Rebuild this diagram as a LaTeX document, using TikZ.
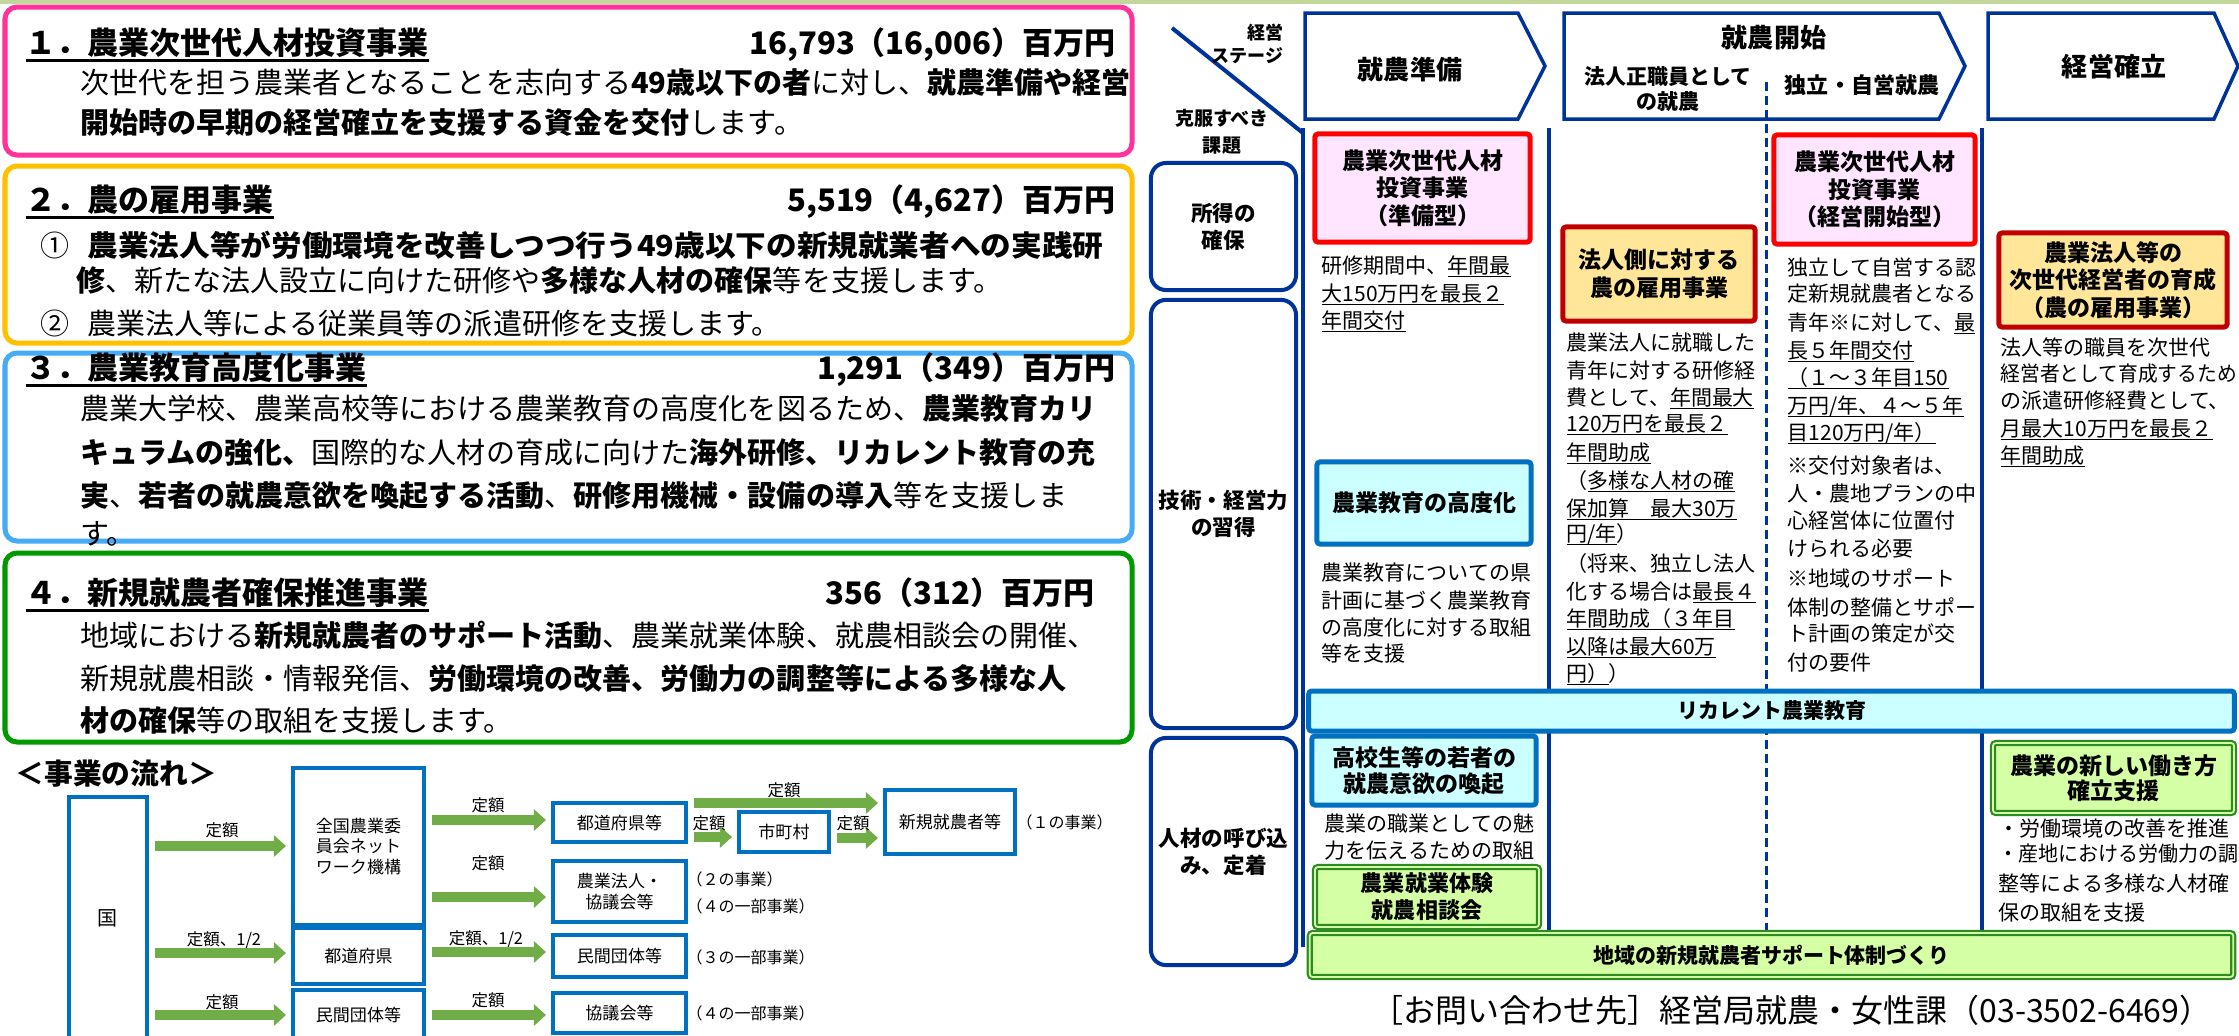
\documentclass[tikz,border=0pt]{standalone}
\usepackage{fontspec}
\usepackage{graphicx}
\setmainfont{Noto Sans CJK JP}
\usetikzlibrary{arrows.meta}
\definecolor{topbar}{HTML}{C3D69B}
\definecolor{pinkb}{HTML}{FF3399}
\definecolor{orgb}{HTML}{FFC000}
\definecolor{bluel}{HTML}{45ABF5}
\definecolor{grnb}{HTML}{009900}
\definecolor{fblue}{HTML}{0070C0}
\definecolor{agreen}{HTML}{70AD47}
\definecolor{dblue}{HTML}{003399}
\definecolor{redb}{HTML}{FF0000}
\definecolor{pinkf}{HTML}{FFE5FF}
\definecolor{orgf}{HTML}{FFE699}
\definecolor{dred}{HTML}{C00000}
\definecolor{cyanf}{HTML}{CCFFFF}
\definecolor{gfill}{HTML}{D5FFA5}
\definecolor{gdark}{HTML}{2E8B22}
\newcommand\fz[2]{\fontsize{#1}{#2}\selectfont}
\newsavebox\ulbox
\newcommand\myul[1]{\sbox\ulbox{#1}\rlap{\rule[-0.2em]{\wd\ulbox}{0.065em}}\usebox\ulbox}
\newcommand\myulT[1]{\sbox\ulbox{#1}\rlap{\rule[-0.22em]{\wd\ulbox}{0.09em}}\usebox\ulbox}
\begin{document}
\begin{tikzpicture}[x=0.01cm,y=-0.01cm,
  bigbox/.style={line width=0.05cm, rounded corners=0.12cm},
  tl/.style={inner sep=0pt, anchor=west, font=\fz{8.82pt}{10pt}\bfseries, text height=0.273cm, text depth=0.037cm},
  bd/.style={inner sep=0pt, anchor=west, font=\fz{8.25pt}{10pt}, text height=0.255cm, text depth=0.035cm},
  ct/.style={inner sep=0pt, anchor=west, font=\fz{5.97pt}{7pt}, text height=0.185cm, text depth=0.025cm},
  fbox/.style={draw=fblue, line width=0.04cm, inner sep=0pt, align=center, font=\fz{4.84pt}{5.69pt}},
  farrow/.style={draw=agreen, line width=0.1cm, -{Triangle[length=0.12cm,width=0.21cm]}, shorten <=0.06cm, shorten >=0.05cm},
  flab/.style={inner sep=0pt, font=\fz{4.69pt}{5.6pt}},
  fnote/.style={inner sep=0pt, anchor=west, font=\fz{4.55pt}{5.4pt}},
  rbox/.style={draw=dblue, line width=0.04cm, rounded corners=0.15cm, inner sep=0pt, align=center, font=\fz{6.12pt}{7.68pt}\bfseries},
  cbox/.style={line width=0.05cm, rounded corners=0.03cm, inner sep=0pt, align=center, font=\fz{6.54pt}{7.82pt}\bfseries},
  redbx/.style={cbox, draw=redb, fill=pinkf},
  orgbx/.style={cbox, draw=dred, fill=orgf},
  cybx/.style={cbox, draw=fblue, fill=cyanf},
  grbx/.style={cbox, draw=gdark, fill=gfill, line width=0.022cm, double=gfill, double distance=0.018cm},
  vline/.style={draw=dblue, line width=0.04cm},
  dashln/.style={draw=dblue, line width=0.03cm, dash pattern=on 0.09cm off 0.05cm},
  chev/.style={draw=dblue, line width=0.035cm, line join=miter},
  hd/.style={inner sep=0pt, align=center}
]
\clip (0,0) rectangle (2239,1035);
\fill[white] (0,0) rectangle (2239,1035);
\fill[topbar] (0,0) rectangle (2239,4);

% ===== left boxes =====
\draw[bigbox,draw=pinkb] (5,7) rectangle (1132,155);
\draw[bigbox,draw=orgb] (5,166) rectangle (1132,343);
\draw[bigbox,draw=bluel] (5,353) rectangle (1132,541);
\draw[bigbox,draw=grnb] (5,553) rectangle (1132,742);

\node[tl] (t1) at (25,43) {\myulT{１．農業次世代人材投資事業}};
\node[tl,anchor=east] (a1) at (1116,43) {16,793（16,006）百万円};
\node[bd] (b1a) at (80,82) {次世代を担う農業者となることを志向する\textbf{49歳以下の者}に対し、\textbf{就農準備や経営}};
\node[bd] (b1b) at (80,122) {\textbf{開始時の早期の経営確立を支援する資金を交付}します。};

\node[tl] (t2) at (25,200) {\myulT{２．農の雇用事業}};
\node[tl,anchor=east] (a2) at (1116,200) {5,519（4,627）百万円};
\node[bd] (b2n1) at (40,245) {①};
\node[bd] (b2a) at (87,245) {\resizebox{10.15cm}{\height}{\textbf{農業法人等が労働環境を改善しつつ行う49歳以下の新規就業者への実践研}}};
\node[bd] (b2b) at (76,280) {\textbf{修}、新たな法人設立に向けた研修や\textbf{多様な人材の確保}等を支援します。};
\node[bd] (b2n2) at (40,323) {②};
\node[bd] (b2c) at (87,323) {農業法人等による従業員等の派遣研修を支援します。};

\node[tl] (t3) at (25,368) {\myulT{３．農業教育高度化事業}};
\node[tl,anchor=east] (a3) at (1116,368) {1,291（349）百万円};
\node[bd] (b3a) at (80,408) {農業大学校、農業高校等における農業教育の高度化を図るため、\textbf{農業教育カリ}};
\node[bd] (b3b) at (80,452) {\textbf{キュラムの強化、}国際的な人材の育成に向けた\textbf{海外研修、リカレント教育の充}};
\node[bd] (b3c) at (80,495) {\textbf{実}、\textbf{若者の就農意欲を喚起する活動}、\textbf{研修用機械・設備の導入}等を支援しま};
\node[bd] (b3d) at (80,533) {す。};

\node[tl] (t4) at (25,593) {\myulT{４．新規就農者確保推進事業}};
\node[tl,anchor=east] (a4) at (1095,593) {356（312）百万円};
\node[bd] (b4a) at (80,635) {地域における\textbf{新規就農者のサポート活動}、農業就業体験、就農相談会の開催、};
\node[bd] (b4b) at (80,678) {新規就農相談・情報発信、\textbf{労働環境の改善、労働力の調整等による多様な人}};
\node[bd] (b4c) at (80,720) {\textbf{材の確保}等の取組を支援します。};

% ===== flow =====
\node[tl, font=\fz{8.17pt}{10pt}\bfseries] (flowt) at (15,773) {＜事業の流れ＞};

\node[fbox, minimum width=0.78cm, minimum height=2.42cm, font=\fz{5.69pt}{6.8pt}] (kuni) at (108,918) {国};
\node[fbox, minimum width=1.31cm, minimum height=1.57cm] (zk) at (358.5,846.5) {全国農業委\\員会ネット\\ワーク機構};
\node[fbox, minimum width=1.31cm, minimum height=0.56cm] (tdfk) at (358.5,956) {都道府県};
\node[fbox, minimum width=1.31cm, minimum height=0.50cm] (mkd1) at (358.5,1015) {民間団体等};
\node[fbox, minimum width=1.33cm, minimum height=0.39cm] (tdfkt) at (619.5,822.5) {都道府県等};
\node[fbox, minimum width=1.33cm, minimum height=0.61cm, font=\fz{4.84pt}{5.98pt}] (hjk) at (619.5,891.5) {農業法人・\\協議会等};
\node[fbox, minimum width=1.33cm, minimum height=0.42cm] (mkd2) at (619.5,956) {民間団体等};
\node[fbox, minimum width=1.33cm, minimum height=0.40cm] (kgk) at (619.5,1013) {協議会等};
\node[fbox, minimum width=0.90cm, minimum height=0.40cm] (scs) at (784,832) {市町村};
\node[fbox, minimum width=1.30cm, minimum height=0.64cm] (snk) at (950,822) {新規就農者等};

\draw[farrow] (kuni.east |- 0,846) -- (zk.west |- 0,846);
\draw[farrow] (kuni.east |- 0,953) -- (tdfk.west |- 0,953);
\draw[farrow] (kuni.east |- 0,1015) -- (mkd1.west |- 0,1015);
\draw[farrow] (zk.east |- 0,820) -- (tdfkt.west |- 0,820);
\draw[farrow] (zk.east |- 0,897) -- (hjk.west |- 0,897);
\draw[farrow] (tdfk.east |- 0,952) -- (mkd2.west |- 0,952);
\draw[farrow] (mkd1.east |- 0,1015) -- (kgk.west |- 0,1015);
\draw[farrow] (tdfkt.east |- 0,803) -- (snk.west |- 0,803);
\draw[farrow] (tdfkt.east |- 0,837) -- (scs.west |- 0,837);
\draw[farrow] (scs.east |- 0,838) -- (snk.west |- 0,838);

\node[flab] (l1) at (222,830) {定額};
\node[flab] (l2) at (224,940) {定額、1/2};
\node[flab] (l3) at (222,1002) {定額};
\node[flab] (l4) at (488,805) {定額};
\node[flab] (l5) at (488,863) {定額};
\node[flab] (l6) at (486,939) {定額、1/2};
\node[flab] (l7) at (488,1000) {定額};
\node[flab] (l8) at (784,790) {定額};
\node[flab] (l9) at (709,823) {定額};
\node[flab] (l10) at (853,823) {定額};

\node[fnote] (n1) at (1016,822) {（１の事業）};
\node[fnote] (n2) at (686,879) {（２の事業）};
\node[fnote] (n3) at (686,906) {（４の一部事業）};
\node[fnote] (n4) at (686,957) {（３の一部事業）};
\node[fnote] (n5) at (686,1013) {（４の一部事業）};

% ===== right panel =====
\draw[vline] (1172,28) -- (1303,133);
\draw[vline] (1303,128) -- (1303,947);
\draw[vline] (1549,128) -- (1549,932);
\draw[vline] (1982,128) -- (1982,932);

\draw[chev] (1305,13) -- (1518,13) -- (1545,66) -- (1518,119) -- (1305,119) -- cycle;
\draw[chev] (1564,13) -- (1939,13) -- (1965,66) -- (1939,119) -- (1564,119) -- cycle;
\draw[chev] (1988,13) -- (2214,13) -- (2238,66) -- (2214,119) -- (1988,119) -- cycle;
\draw[dashln] (1766,82) -- (1766,932);

\node[hd, font=\fz{5.12pt}{6.54pt}\bfseries, align=right, anchor=east] (stg) at (1284,43.5) {経営\\ステージ};
\node[hd, font=\fz{5.41pt}{7.7pt}\bfseries] (kdai) at (1222,131.5) {克服すべき\\課題};
\node[hd, font=\fz{7.40pt}{8pt}\bfseries] (h1) at (1410,70) {就農準備};
\node[hd, font=\fz{7.40pt}{8pt}\bfseries] (h2) at (1774,38) {就農開始};
\node[hd, font=\fz{5.97pt}{7.11pt}\bfseries] (h2a) at (1668,89.5) {法人正職員として\\の就農};
\node[hd, font=\fz{6.26pt}{7pt}\bfseries] (h2b) at (1862,85) {独立・自営就農};
\node[hd, font=\fz{7.40pt}{8pt}\bfseries] (h3) at (2114,67) {経営確立};

\node[rbox, minimum width=1.45cm, minimum height=1.27cm] (r1) at (1223.5,226.5) {所得の\\確保};
\node[rbox, minimum width=1.45cm, minimum height=4.28cm] (r2) at (1223.5,514) {技術・経営力\\の習得};
\node[rbox, minimum width=1.45cm, minimum height=2.27cm] (r3) at (1223.5,851.5) {人材の呼び込\\み、定着};

\node[redbx, minimum width=2.15cm, minimum height=1.08cm] (jy1) at (1422.5,188) {農業次世代人材\\投資事業\\（準備型）};
\node[redbx, minimum width=2.01cm, minimum height=1.09cm] (jy2) at (1874.5,189.5) {農業次世代人材\\投資事業\\（経営開始型）};
\node[orgbx, minimum width=1.92cm, minimum height=0.94cm] (hoj) at (1659,274) {法人側に対する\\農の雇用事業};
\node[orgbx, minimum width=2.28cm, minimum height=0.94cm] (jise) at (2113,280) {農業法人等の\\次世代経営者の育成\\（農の雇用事業）};
\node[cybx, minimum width=2.14cm, minimum height=0.82cm] (kdk) at (1424,503) {農業教育の高度化};
\node[cybx, minimum width=9.25cm, minimum height=0.40cm, font=\fz{5.97pt}{7pt}\bfseries] (rec) at (1771.5,711) {リカレント農業教育};
\node[cybx, minimum width=2.24cm, minimum height=0.69cm, font=\fz{6.54pt}{7.4pt}\bfseries] (jkw) at (1424,770.5) {高校生等の若者の\\就農意欲の喚起};
\node[grbx, minimum width=2.24cm, minimum height=0.60cm, font=\fz{6.26pt}{7.68pt}\bfseries] (tsk) at (1427,897) {農業就業体験\\就農相談会};
\node[grbx, minimum width=2.41cm, minimum height=0.70cm, font=\fz{6.54pt}{7.2pt}\bfseries] (atr) at (2113.5,778) {農業の新しい働き方\\確立支援};
\node[grbx, minimum width=9.23cm, minimum height=0.44cm, font=\fz{5.97pt}{7pt}\bfseries] (chi) at (1771.5,955) {地域の新規就農者サポート体制づくり};

% column 1
\node[ct] (c1a) at (1321,265) {研修期間中、\myul{年間最}};
\node[ct] (c1b) at (1321,293) {\myul{大150万円を最長２}};
\node[ct] (c1c) at (1321,320) {\myul{年間交付}};
\node[ct] (c1d) at (1321,572) {農業教育についての県};
\node[ct] (c1e) at (1321,600) {計画に基づく農業教育};
\node[ct] (c1f) at (1321,627) {の高度化に対する取組};
\node[ct] (c1g) at (1321,653) {等を支援};
\node[ct] (c1h) at (1324,823) {農業の職業としての魅};
\node[ct] (c1i) at (1324,850) {力を伝えるための取組};

% column 2
\node[ct] (c2a) at (1566,342) {農業法人に就職した};
\node[ct] (c2b) at (1566,370) {青年に対する研修経};
\node[ct] (c2c) at (1566,397) {費として、\myul{年間最大}};
\node[ct] (c2d) at (1566,423) {\myul{120万円を最長２}};
\node[ct] (c2e) at (1566,452) {\myul{年間助成}};
\node[ct] (c2f) at (1566,480) {（\myul{多様な人材の確}};
\node[ct] (c2g) at (1566,508) {\myul{保加算　最大30万}};
\node[ct] (c2h) at (1566,533) {\myul{円/年}）};
\node[ct] (c2i) at (1566,563) {（将来、独立し法人};
\node[ct] (c2j) at (1566,591) {化する場合は\myul{最長４}};
\node[ct] (c2k) at (1566,618) {\myul{年間助成（３年目}};
\node[ct] (c2l) at (1566,646) {\myul{以降は最大60万}};
\node[ct] (c2m) at (1566,673) {\myul{円）}）};

% column 3
\node[ct] (c3a) at (1787,267) {独立して自営する認};
\node[ct] (c3b) at (1787,293) {定新規就農者となる};
\node[ct] (c3c) at (1787,322) {青年※に対して、\myul{最}};
\node[ct] (c3d) at (1787,350) {\myul{長５年間交付}};
\node[ct] (c3e) at (1787,377) {\myul{（１～３年目150}};
\node[ct] (c3f) at (1787,405) {\myul{万円/年、４～５年}};
\node[ct] (c3g) at (1787,432) {\myul{目120万円/年）}};
\node[ct] (c3h) at (1787,465) {※交付対象者は、};
\node[ct] (c3i) at (1787,493) {人・農地プランの中};
\node[ct] (c3j) at (1787,520) {心経営体に位置付};
\node[ct] (c3k) at (1787,548) {けられる必要};
\node[ct] (c3l) at (1787,578) {※地域のサポート};
\node[ct] (c3m) at (1787,607) {体制の整備とサポー};
\node[ct] (c3n) at (1787,633) {ト計画の策定が交};
\node[ct] (c3o) at (1787,662) {付の要件};

% column 4
\node[ct] (c4a) at (2000,347) {法人等の職員を次世代};
\node[ct] (c4b) at (2000,373) {\resizebox{2.36cm}{\height}{経営者として育成するため}};
\node[ct] (c4c) at (2000,400) {の派遣研修経費として、};
\node[ct] (c4d) at (2000,428) {\myul{月最大10万円を最長２}};
\node[ct] (c4e) at (2000,455) {\myul{年間助成}};
\node[ct] (c4f) at (1998,828) {・労働環境の改善を推進};
\node[ct] (c4g) at (1998,853) {\resizebox{2.40cm}{\height}{・産地における労働力の調}};
\node[ct] (c4h) at (1998,883) {整等による多様な人材確};
\node[ct] (c4i) at (1998,912) {保の取組を支援};

\node[inner sep=0pt, anchor=east, font=\fz{9.10pt}{10pt}] (ftr) at (2212,1010) {［お問い合わせ先］経営局就農・女性課（03-3502-6469）};
\end{tikzpicture}
\end{document}
